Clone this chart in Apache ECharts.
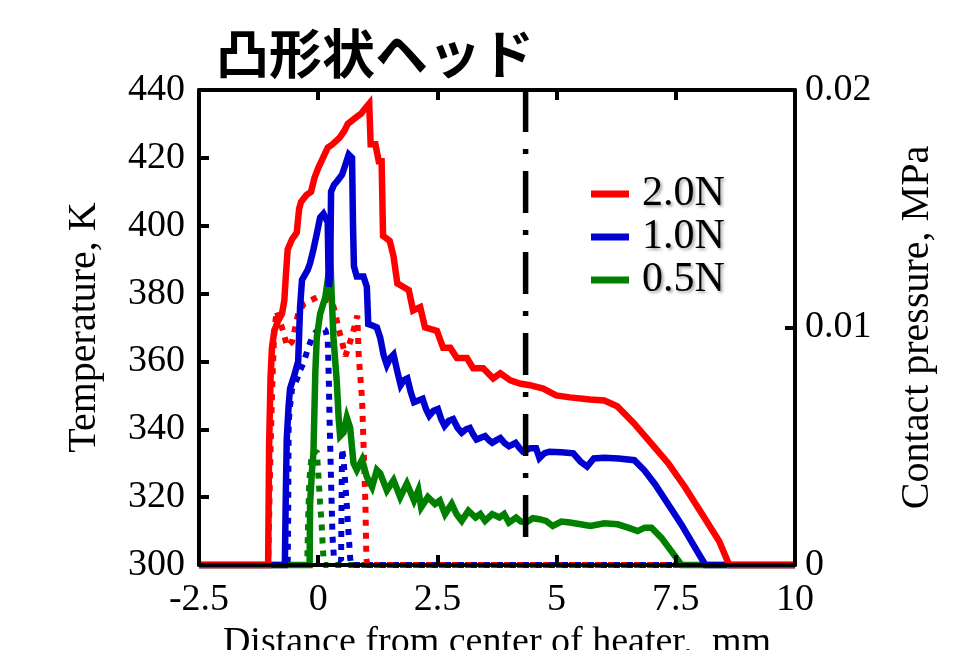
<!DOCTYPE html>
<html><head><meta charset="utf-8">
<script src="https://cdn.jsdelivr.net/npm/echarts@6/dist/echarts.min.js"></script>
<style>html,body{margin:0;padding:0;background:#fff;overflow:hidden}#c{width:970px;height:650px}</style>
</head><body><div id="c"></div>
<script>
// ---------- data ----------
const chartTitle = '凸形状ヘッド';
const loadNames = ['2.0N', '1.0N', '0.5N'];
const xTitle = 'Distance from center of heater,  mm';
const yLeftTitle = 'Temperature, K';
const yRightTitle = 'Contact pressure, MPa';
const xRange = [-2.5, 10, 2.5];
const tempRange = [300, 440, 20];
const pressRange = [0, 0.02, 0.01];
const dividerX = 4.35;
const dividerSpan = [440, 306];

// temperature [x mm, K]
const temp20N = [[-2.5,300],[-1.05,300],[-1.03,335],[-1.0,355],[-0.97,364],[-0.92,369],[-0.84,372],[-0.76,374],[-0.71,378],[-0.68,385],[-0.64,393],[-0.55,396],[-0.45,398],[-0.4,405],[-0.36,407],[-0.25,409],[-0.15,410],[-0.08,414],[0.0,417],[0.1,420],[0.2,423],[0.3,424],[0.45,426],[0.55,428],[0.62,430],[0.8,432],[0.9,433],[0.98,434.5],[1.07,436],[1.1,424],[1.2,424],[1.27,419],[1.33,419],[1.36,397],[1.5,395.5],[1.58,391],[1.66,383],[1.78,382],[1.9,381],[1.99,375],[2.14,376],[2.24,370],[2.49,369],[2.62,364],[2.77,364],[2.91,361],[3.12,361],[3.25,358],[3.46,358],[3.67,355],[3.82,356.5],[4.03,354.4],[4.23,353.5],[4.44,353],[4.72,352],[4.99,350],[5.28,349.4],[5.7,348.8],[6.0,348.5],[6.27,346.8],[6.62,341.8],[6.98,335.9],[7.34,330],[7.69,323],[8.05,315],[8.41,307],[8.62,300],[10,300]];
const temp10N = [[-2.5,300],[-0.7,300],[-0.68,320],[-0.66,337],[-0.62,347],[-0.59,352],[-0.5,356],[-0.42,360],[-0.38,376],[-0.34,384],[-0.3,384],[-0.22,387],[-0.17,389],[-0.1,393],[-0.03,397.6],[0.04,402.4],[0.11,403.5],[0.2,401],[0.22,382],[0.25,385],[0.27,410],[0.33,412],[0.39,413],[0.5,415],[0.57,418],[0.64,421],[0.71,420],[0.73,400],[0.75,388],[0.81,385],[0.95,385],[1.02,382],[1.05,371],[1.15,370.5],[1.23,370],[1.3,367],[1.37,362],[1.44,359],[1.51,361],[1.58,362],[1.66,357],[1.73,353],[1.8,354.5],[1.87,355],[1.94,351],[2.01,348],[2.1,348.5],[2.19,349],[2.26,346],[2.33,344],[2.42,345.5],[2.51,346],[2.58,343],[2.65,341],[2.74,342.5],[2.83,343],[2.92,340.5],[3.01,339],[3.1,340],[3.18,340.4],[3.25,338.5],[3.32,337],[3.41,337.5],[3.5,338],[3.58,336.8],[3.65,336],[3.74,336.8],[3.82,337.4],[3.91,335.9],[4.0,335],[4.07,335.5],[4.14,336],[4.22,334.5],[4.29,333.5],[4.45,334.4],[4.57,334.4],[4.64,331.5],[4.75,333],[4.85,333.4],[5.1,333.2],[5.35,332.9],[5.5,330.5],[5.64,329],[5.78,331.4],[6.0,331.6],[6.3,331.4],[6.63,330.9],[6.84,327.9],[7.06,323.9],[7.34,317.9],[7.62,311.9],[7.91,305],[8.12,300],[10,300]];
const temp05N = [[-2.5,300],[-0.18,300],[-0.17,318],[-0.13,328],[-0.1,333],[-0.08,345],[-0.06,357],[-0.03,367],[0.04,374],[0.15,379],[0.22,386],[0.26,388],[0.29,377],[0.32,367],[0.39,354],[0.43,343],[0.46,338],[0.53,339],[0.6,343.5],[0.67,340.5],[0.74,330],[0.81,328],[0.92,331],[1.02,326],[1.13,323],[1.23,328],[1.3,327],[1.44,322],[1.58,325],[1.72,320],[1.86,324],[2.01,319],[2.1,322],[2.16,317],[2.3,320],[2.45,318],[2.55,319],[2.66,315],[2.8,318],[2.9,315],[3.01,313],[3.15,316],[3.3,314],[3.4,315],[3.5,313],[3.65,315],[3.8,314],[3.9,315],[4.0,312.5],[4.15,314],[4.25,312.8],[4.36,312.5],[4.5,313.8],[4.64,313.5],[4.78,313],[4.92,311.5],[5.1,312.8],[5.28,312.5],[5.5,312],[5.71,311.5],[6.0,312.3],[6.28,312],[6.5,311],[6.7,310],[6.85,311],[6.99,311],[7.2,308],[7.41,304],[7.62,300],[10,300]];

// contact pressure [x mm, MPa]
const press20N = [[-2.5,0],[-1.05,0],[-1.0,0.0048],[-0.96,0.0078],[-0.92,0.0099],[-0.87,0.0107],[-0.73,0.0098],[-0.65,0.0092],[-0.55,0.0094],[-0.48,0.0100],[-0.42,0.0106],[-0.3,0.0110],[0.0,0.0113],[0.29,0.0111],[0.36,0.0106],[0.42,0.0100],[0.5,0.0094],[0.57,0.0088],[0.67,0.0094],[0.73,0.0098],[0.82,0.0105],[0.85,0.0088],[0.92,0.0070],[0.99,0.0026],[1.01,0.0003],[1.03,0],[10,0]];
const press10N = [[-2.5,0],[-0.64,0],[-0.63,0.002],[-0.62,0.006],[-0.59,0.0067],[-0.55,0.0074],[-0.45,0.0078],[-0.38,0.0082],[-0.31,0.0085],[-0.2,0.0092],[-0.1,0.0097],[0.05,0.0100],[0.15,0.0099],[0.2,0.0095],[0.22,0.008],[0.24,0.006],[0.27,0.0035],[0.3,0.0012],[0.33,0.0003],[0.48,0.0002],[0.5,0.0049],[0.53,0.0045],[0.6,0.0025],[0.67,0.0003],[0.69,0],[10,0]];
const press05N = [[-2.5,0],[-0.23,0],[-0.21,0.002],[-0.19,0.0033],[-0.17,0.004],[-0.13,0.0047],[-0.03,0.0048],[0.01,0.0036],[0.04,0.0026],[0.07,0.0018],[0.09,0.001],[0.11,0.0003],[0.12,0],[10,0]];

const colors = ['#ff0000', '#0000d0', '#007f00'];
const tempSets = [temp20N, temp10N, temp05N];
const pressSets = [press20N, press10N, press05N];

// ---------- chart ----------
const serif = 'Liberation Serif';
const axisCommon = {
  z: 10,
  axisLine: { show: true, onZero: false, lineStyle: { color: '#000', width: 4 } },
  axisTick: { show: true, inside: true, length: 10, lineStyle: { color: '#000', width: 4 } },
  splitLine: { show: false },
  axisLabel: { color: '#000', fontSize: 38, fontFamily: serif }
};

// draw order: 0.5N first, 2.0N last (red ends up on top along the baseline)
const order = [2, 1, 0];
const series = [];
order.forEach(i => series.push({
  name: loadNames[i] + ' pressure', type: 'line', yAxisIndex: 1, data: pressSets[i],
  showSymbol: false, symbol: 'none', z: 2, clip: false,
  lineStyle: { color: colors[i], width: 6, type: [6, 7], cap: 'butt' }
}));
order.forEach(i => series.push({
  name: loadNames[i], type: 'line', yAxisIndex: 0, data: tempSets[i],
  showSymbol: false, symbol: 'none', z: 3, clip: false, color: colors[i],
  lineStyle: { color: colors[i], width: 6.5, join: 'miter' }
}));
series.push({
  name: 'divider', type: 'line', yAxisIndex: 0,
  data: [[dividerX, dividerSpan[0]], [dividerX, dividerSpan[1]]],
  showSymbol: false, symbol: 'none', z: 4,
  lineStyle: { color: '#000', width: 5.5, type: [42, 17, 5, 17], cap: 'butt' }
});

const option = {
  animation: false,
  backgroundColor: '#fff',
  title: {
    text: chartTitle, left: 211, top: 22,
    textStyle: { fontSize: 53, fontWeight: 'bold', fontFamily: 'Noto Sans CJK JP', color: '#000' }
  },
  legend: {
    data: loadNames, orient: 'vertical', left: 586, top: 168,
    itemWidth: 38, itemHeight: 7, itemGap: 1, icon: 'rect',
    textStyle: {
      fontSize: 42, fontFamily: serif, color: '#000', lineHeight: 42,
      padding: [0, 0, 0, 8],
      textShadowColor: 'rgba(0,0,0,0.35)', textShadowBlur: 3, textShadowOffsetX: 2, textShadowOffsetY: 2
    }
  },
  grid: { left: 199, right: 175, top: 90, bottom: 85, containLabel: false, outerBoundsMode: 'none' },
  xAxis: [
    Object.assign({}, axisCommon, {
      type: 'value', position: 'bottom', min: xRange[0], max: xRange[1], interval: xRange[2],
      axisLabel: Object.assign({}, axisCommon.axisLabel, { margin: 16 }),
      name: xTitle, nameLocation: 'middle', nameGap: 52,
      nameTextStyle: { fontSize: 38, fontFamily: serif, color: '#000' }
    }),
    Object.assign({}, axisCommon, {
      type: 'value', position: 'top', min: xRange[0], max: xRange[1], interval: xRange[2],
      axisLabel: { show: false }
    })
  ],
  yAxis: [
    Object.assign({}, axisCommon, {
      type: 'value', position: 'left', min: tempRange[0], max: tempRange[1], interval: tempRange[2],
      axisLabel: Object.assign({}, axisCommon.axisLabel, { margin: 14 }),
      name: yLeftTitle, nameLocation: 'middle', nameGap: 95, nameRotate: 90,
      nameTextStyle: { fontSize: 40, fontFamily: serif, color: '#000' }
    }),
    Object.assign({}, axisCommon, {
      type: 'value', position: 'right', min: pressRange[0], max: pressRange[1], interval: pressRange[2],
      alignTicks: false,
      axisLabel: Object.assign({}, axisCommon.axisLabel, { margin: 10 }),
      name: yRightTitle, nameLocation: 'middle', nameGap: 102, nameRotate: 90,
      nameTextStyle: { fontSize: 40, fontFamily: serif, color: '#000' }
    })
  ],
  series: series
};

const chart = echarts.init(document.getElementById('c'), null, { renderer: 'canvas' });
chart.setOption(option);
</script>
</body></html>
